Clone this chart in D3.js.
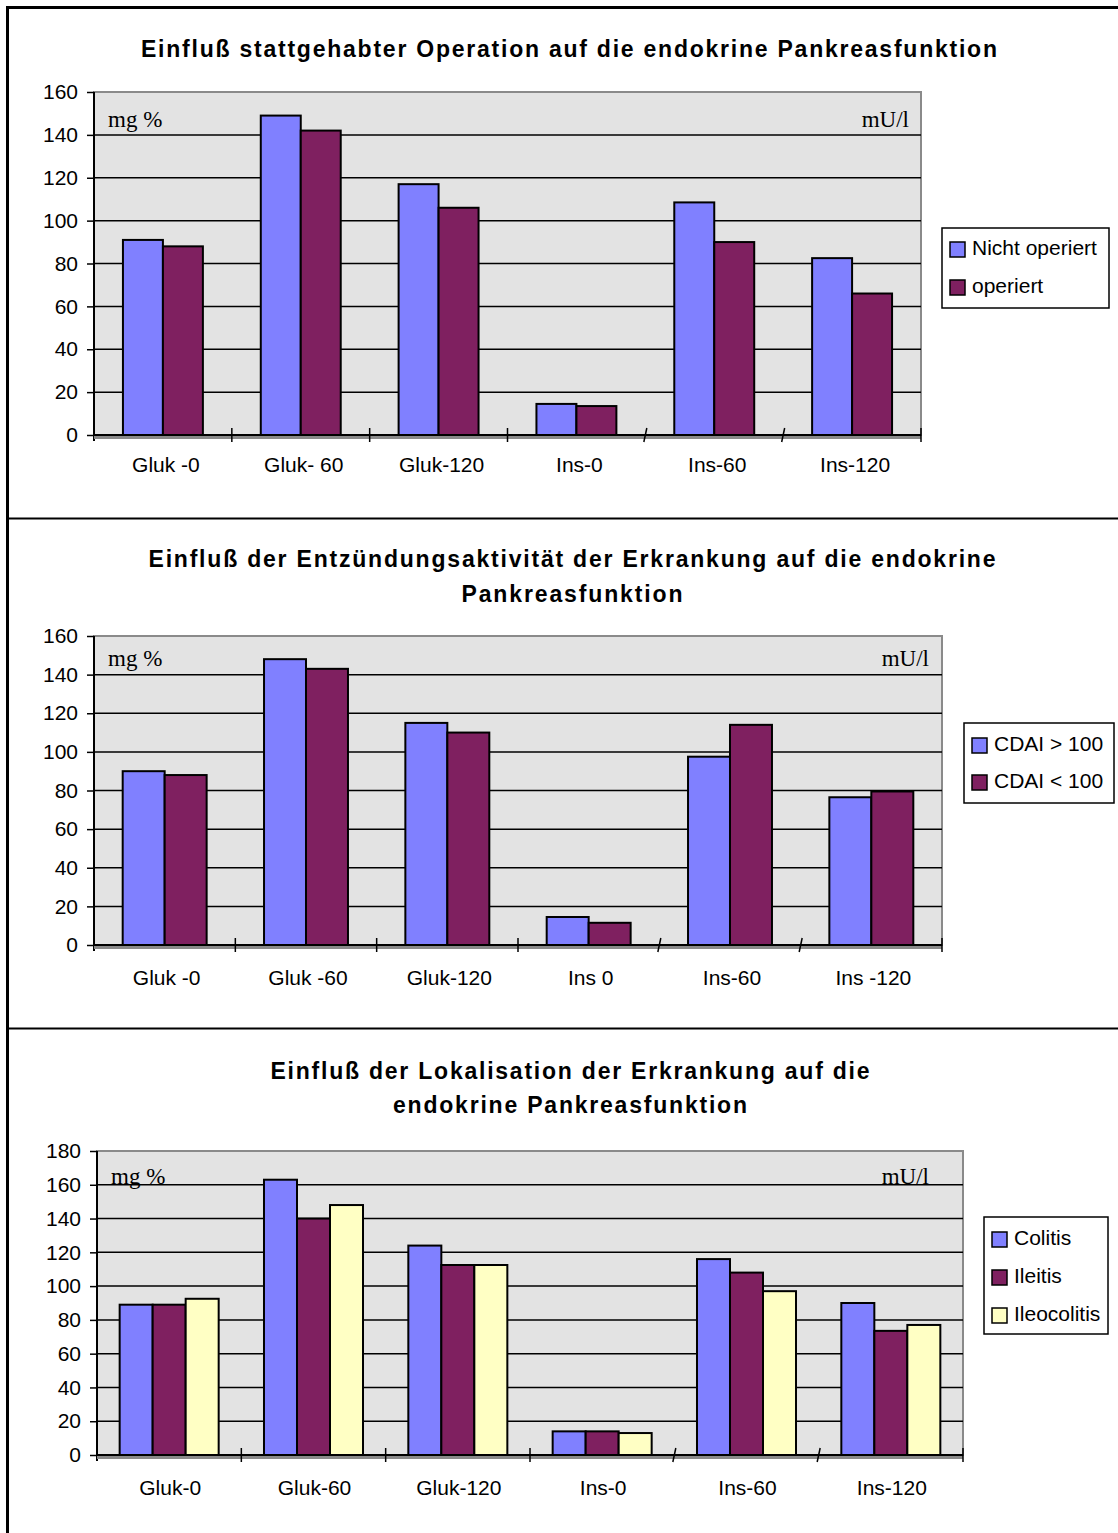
<!DOCTYPE html>
<html>
<head>
<meta charset="utf-8">
<script src="https://cdn.jsdelivr.net/npm/d3@7"></script>
<style>
  html, body { margin: 0; padding: 0; background: #fff; }
  svg { display: block; }
</style>
</head>
<body>
<svg id="chart" width="1118" height="1533"></svg>
<script>
// ---- Data -------------------------------------------------------------
const categoriesOp = ["Gluk -0", "Gluk- 60", "Gluk-120", "Ins-0", "Ins-60", "Ins-120"];
const seriesOp = ["Nicht operiert", "operiert"];
const nichtOperiert = [91, 149, 117, 14.5, 108.5, 82.5];
const operiert = [88, 142, 106, 13.5, 90, 66];
const ticksOp = [0, 20, 40, 60, 80, 100, 120, 140, 160];

const categoriesCdai = ["Gluk -0", "Gluk -60", "Gluk-120", "Ins 0", "Ins-60", "Ins -120"];
const seriesCdai = ["CDAI > 100", "CDAI < 100"];
const cdaiHigh = [90, 148, 115, 14.5, 97.5, 76.5];
const cdaiLow = [88, 143, 110, 11.5, 114, 79.5];
const ticksCdai = [0, 20, 40, 60, 80, 100, 120, 140, 160];

const categoriesLok = ["Gluk-0", "Gluk-60", "Gluk-120", "Ins-0", "Ins-60", "Ins-120"];
const seriesLok = ["Colitis", "Ileitis", "Ileocolitis"];
const colitis = [89, 163, 124, 14, 116, 90];
const ileitis = [89, 140, 112.5, 14, 108, 73.5];
const ileocolitis = [92.5, 148, 112.5, 13, 97, 77];
const ticksLok = [0, 20, 40, 60, 80, 100, 120, 140, 160, 180];

const colors = ["#8080ff", "#7f2060", "#ffffc4"];

// ---- Layout -----------------------------------------------------------
const charts = [
  {
    title: ["Einfluß stattgehabter Operation auf die endokrine Pankreasfunktion"],
    titleLen: [856], titleY: [57], titleX: 569,
    categories: categoriesOp, series: seriesOp, values: [nichtOperiert, operiert], ticks: ticksOp,
    plot: { x0: 94, x1: 921, y0: 92, y1: 435 }, group: 0.58,
    legend: { x: 942, y: 228, w: 167, h: 80, first: 248, step: 38 },
    unitsY: 127, unitsRight: 12, catY: 472, catShift: 3
  },
  {
    title: ["Einfluß der Entzündungsaktivität der Erkrankung auf die endokrine", "Pankreasfunktion"],
    titleLen: [847, 221], titleY: [567, 602], titleX: 572,
    categories: categoriesCdai, series: seriesCdai, values: [cdaiHigh, cdaiLow], ticks: ticksCdai,
    plot: { x0: 94, x1: 942, y0: 636, y1: 945 }, group: 0.594,
    legend: { x: 964, y: 723, w: 150, h: 80, first: 744, step: 37 },
    unitsY: 666, unitsRight: 13, catY: 985, catShift: 2
  },
  {
    title: ["Einfluß der Lokalisation der Erkrankung auf die", "endokrine Pankreasfunktion"],
    titleLen: [599, 354], titleY: [1079, 1113], titleX: 570,
    categories: categoriesLok, series: seriesLok, values: [colitis, ileitis, ileocolitis], ticks: ticksLok,
    plot: { x0: 97, x1: 963, y0: 1151, y1: 1455 }, group: 0.686,
    legend: { x: 984, y: 1217, w: 124, h: 117, first: 1238, step: 38 },
    unitsY: 1184, unitsRight: 34, catY: 1495, catShift: 1
  }
];

const svg = d3.select("#chart");
const FONT = "Arial, 'Liberation Sans', sans-serif";
const SERIF = "'Times New Roman', 'Liberation Serif', serif";

// Outer frame and panel dividers
svg.append("line").attr("x1", 7.5).attr("x2", 7.5).attr("y1", 6).attr("y2", 1533)
  .attr("stroke", "#000").attr("stroke-width", 3);
svg.append("line").attr("x1", 6).attr("x2", 1118).attr("y1", 7.5).attr("y2", 7.5)
  .attr("stroke", "#000").attr("stroke-width", 3);
[518.5, 1028.5].forEach(y => {
  svg.append("line").attr("x1", 6).attr("x2", 1118).attr("y1", y).attr("y2", y)
    .attr("stroke", "#000").attr("stroke-width", 2);
});

charts.forEach(c => {
  const g = svg.append("g");
  const p = c.plot;
  const maxV = c.ticks[c.ticks.length - 1];

  const y = d3.scaleLinear().domain([0, maxV]).range([p.y1, p.y0]);
  const x = d3.scaleBand().domain(c.categories).range([p.x0, p.x1]).padding(0);
  const groupW = x.step() * c.group;
  const xs = d3.scaleBand().domain(c.series).range([0, groupW]).padding(0);

  // Titles
  c.title.forEach((t, i) => {
    g.append("text").attr("x", c.titleX).attr("y", c.titleY[i])
      .attr("text-anchor", "middle")
      .attr("font-family", FONT).attr("font-weight", "bold").attr("font-size", 23)
      .attr("textLength", c.titleLen[i]).attr("lengthAdjust", "spacing")
      .text(t);
  });

  // Plot background
  g.append("rect").attr("x", p.x0).attr("y", p.y0)
    .attr("width", p.x1 - p.x0).attr("height", p.y1 - p.y0)
    .attr("fill", "#e3e3e3").attr("stroke", "#8a8a8a").attr("stroke-width", 2);

  // Grid lines
  g.selectAll(".grid").data(c.ticks.filter(t => t > 0 && t < maxV)).join("line")
    .attr("x1", p.x0).attr("x2", p.x1)
    .attr("y1", d => y(d)).attr("y2", d => y(d))
    .attr("stroke", "#000").attr("stroke-width", 1.5);

  // Unit labels
  g.append("text").attr("x", p.x0 + 14).attr("y", c.unitsY)
    .attr("font-family", SERIF).attr("font-size", 23).text("mg %");
  g.append("text").attr("x", p.x1 - c.unitsRight).attr("y", c.unitsY).attr("text-anchor", "end")
    .attr("font-family", SERIF).attr("font-size", 23).text("mU/l");

  // Bars
  const groups = g.selectAll(".grp").data(c.categories).join("g")
    .attr("transform", d => `translate(${x(d) + (x.step() - groupW) / 2},0)`);
  groups.selectAll("rect")
    .data((cat, ci) => c.series.map((s, si) => ({ s, si, v: c.values[si][ci] })))
    .join("rect")
    .attr("x", d => xs(d.s))
    .attr("y", d => y(d.v))
    .attr("width", xs.bandwidth())
    .attr("height", d => y(0) - y(d.v))
    .attr("fill", d => colors[d.si])
    .attr("stroke", "#000").attr("stroke-width", 2);

  // Y axis
  const yAxis = d3.axisLeft(y).tickValues(c.ticks).tickSize(7).tickPadding(9)
    .tickFormat(d3.format("d"));
  const ya = g.append("g").attr("transform", `translate(${p.x0},0)`).call(yAxis);
  ya.select(".domain").attr("stroke", "#000").attr("stroke-width", 2)
    .attr("d", `M0,${p.y0}V${p.y1 + 6}`);
  ya.selectAll(".tick line").attr("stroke", "#000").attr("stroke-width", 1.5);
  ya.selectAll(".tick text").attr("font-family", FONT).attr("font-size", 21).attr("fill", "#000");

  // X axis: shadow, baseline, category separators
  g.append("line").attr("x1", p.x0).attr("x2", p.x1).attr("y1", p.y1 + 2.5).attr("y2", p.y1 + 2.5)
    .attr("stroke", "#8a8a8a").attr("stroke-width", 3);
  g.append("line").attr("x1", p.x0).attr("x2", p.x1).attr("y1", p.y1).attr("y2", p.y1)
    .attr("stroke", "#000").attr("stroke-width", 2);
  const seps = c.categories.slice(1).map(d => x(d)).concat([p.x1]);
  g.selectAll(".sep").data(seps).join("line")
    .attr("x1", (d, i) => (i === 3 || i === 4) ? d - 1.5 : d)
    .attr("x2", (d, i) => (i === 3 || i === 4) ? d + 1.5 : d)
    .attr("y1", p.y1 + 7).attr("y2", p.y1 - 7)
    .attr("stroke", "#000").attr("stroke-width", 1.5);

  // Category labels
  g.selectAll(".cat").data(c.categories).join("text")
    .attr("x", d => x(d) + x.step() / 2 + c.catShift).attr("y", c.catY)
    .attr("text-anchor", "middle")
    .attr("font-family", FONT).attr("font-size", 21).text(d => d);

  // Legend
  const L = c.legend;
  const lg = g.append("g");
  lg.append("rect").attr("x", L.x).attr("y", L.y).attr("width", L.w).attr("height", L.h)
    .attr("fill", "#fff").attr("stroke", "#000").attr("stroke-width", 1.5);
  const items = lg.selectAll(".item").data(c.series).join("g")
    .attr("transform", (d, i) => `translate(${L.x + 8},${L.first + i * L.step})`);
  items.append("rect").attr("x", 0).attr("y", -6).attr("width", 15).attr("height", 15)
    .attr("fill", (d, i) => colors[i]).attr("stroke", "#000").attr("stroke-width", 1.5);
  items.append("text").attr("x", 22).attr("y", 7)
    .attr("font-family", FONT).attr("font-size", 21).text(d => d);
});
</script>
</body>
</html>
